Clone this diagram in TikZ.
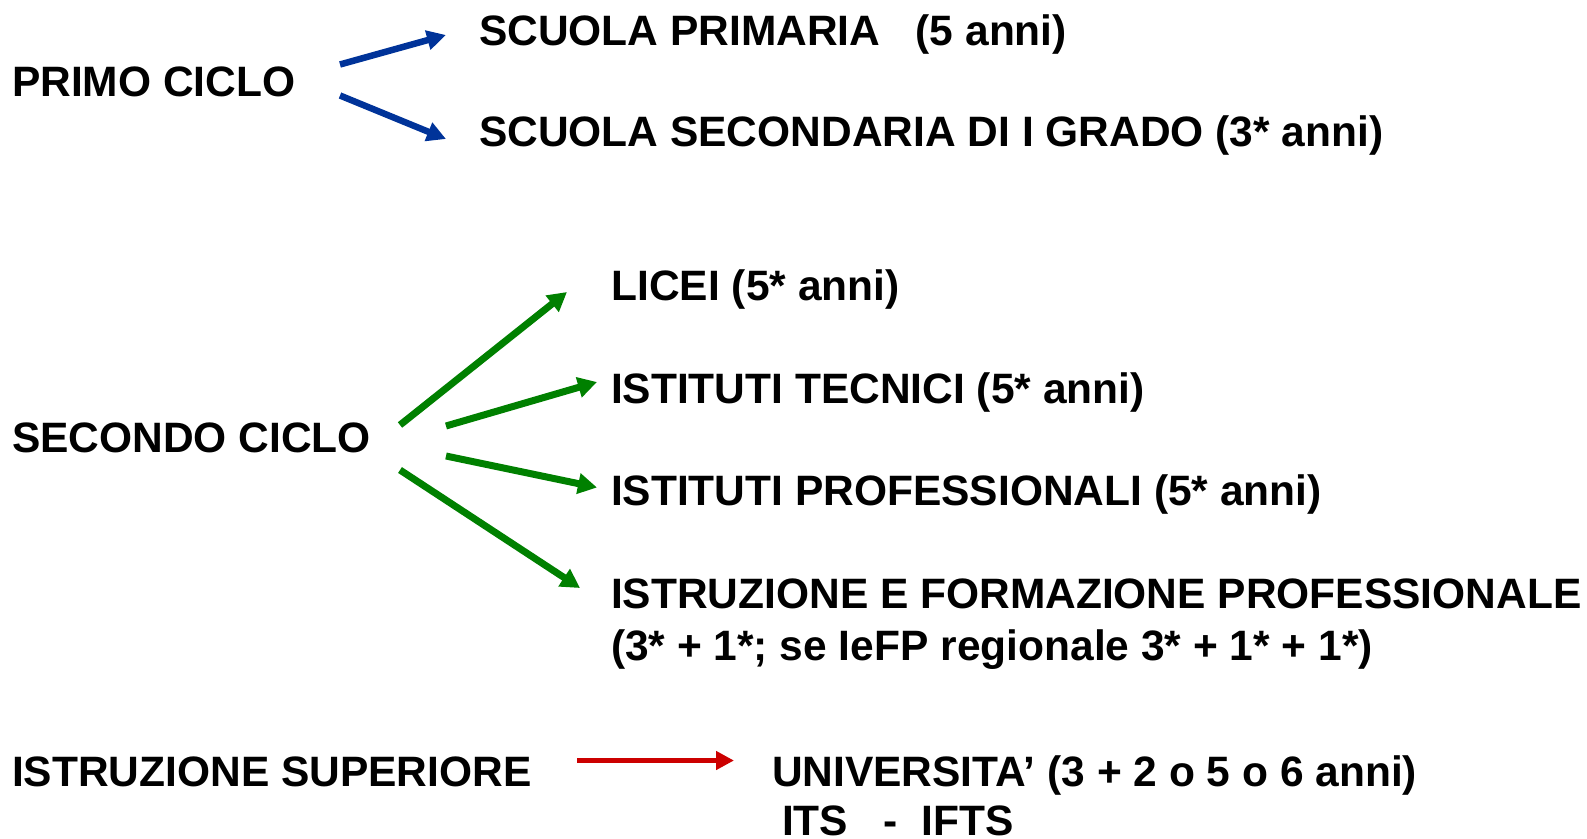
\documentclass[tikz,border=0pt]{standalone}
\usepackage{fontspec}
\setmainfont{Liberation Sans}
\usetikzlibrary{arrows.meta}
\definecolor{arrblue}{RGB}{0,51,153}
\definecolor{arrgreen}{RGB}{0,128,0}
\definecolor{arrred}{RGB}{204,0,0}
\tikzset{
  lbl/.style={anchor=base west, inner sep=0pt, outer sep=0pt, font=\fontsize{42.5bp}{50bp}\selectfont\bfseries},
  barrow/.style={line width=6.5bp, draw=arrblue, -{Triangle[length=19bp,width=19bp]}},
  garrow/.style={line width=7bp, draw=arrgreen, -{Triangle[length=19bp,width=20bp]}},
  rarrow/.style={line width=5bp, draw=arrred, -{Triangle[length=18bp,width=18bp]}}
}
\begin{document}
\begin{tikzpicture}[x=1bp,y=-1bp]
\useasboundingbox (0,0) rectangle (1587,838);
% texts
\node[lbl] (primo) at (12,96.5) {PRIMO CICLO};
\node[lbl] (primaria) at (479,45) {SCUOLA PRIMARIA\ \ \ (5 anni)};
\node[lbl] (secI) at (479,146.5) {SCUOLA SECONDARIA DI I GRADO (3* anni)};
\node[lbl] (secondo) at (12,452) {SECONDO CICLO};
\node[lbl] (licei) at (611.5,300) {LICEI (5* anni)};
\node[lbl] (tecnici) at (611,403) {ISTITUTI TECNICI (5* anni)};
\node[lbl] (prof) at (611,505.5) {ISTITUTI PROFESSIONALI (5* anni)};
\node[lbl] (iefp) at (611,608) {ISTRUZIONE E FORMAZIONE PROFESSIONALE};
\node[lbl] (iefp2) at (611,660) {(3* + 1*; se IeFP regionale 3* + 1* + 1*)};
\node[lbl] (sup) at (12,786) {ISTRUZIONE SUPERIORE};
\node[lbl] (univ) at (772,786.5) {UNIVERSITA’ (3 + 2 o 5 o 6 anni)};
\node[lbl] (its) at (782,835.5) {ITS\ \ \ -\ \ IFTS};
% arrow endpoints
\coordinate (b1s) at (340,64.5);
\coordinate (b1e) at (446,35);
\coordinate (b2s) at (340,95.5);
\coordinate (b2e) at (446,139);
\coordinate (g1s) at (400,425);
\coordinate (g1e) at (567,292);
\coordinate (g2s) at (446,426);
\coordinate (g2e) at (597,382);
\coordinate (g3s) at (446,456);
\coordinate (g3e) at (597,487.5);
\coordinate (g4s) at (400,470);
\coordinate (g4e) at (580,588);
\coordinate (r1s) at (577,760.5);
\coordinate (r1e) at (734,760.5);
% arrows
\draw[barrow] (b1s) -- (b1e);
\draw[barrow] (b2s) -- (b2e);
\draw[garrow] (g1s) -- (g1e);
\draw[garrow] (g2s) -- (g2e);
\draw[garrow] (g3s) -- (g3e);
\draw[garrow] (g4s) -- (g4e);
\draw[rarrow] (r1s) -- (r1e);
\end{tikzpicture}
\end{document}
